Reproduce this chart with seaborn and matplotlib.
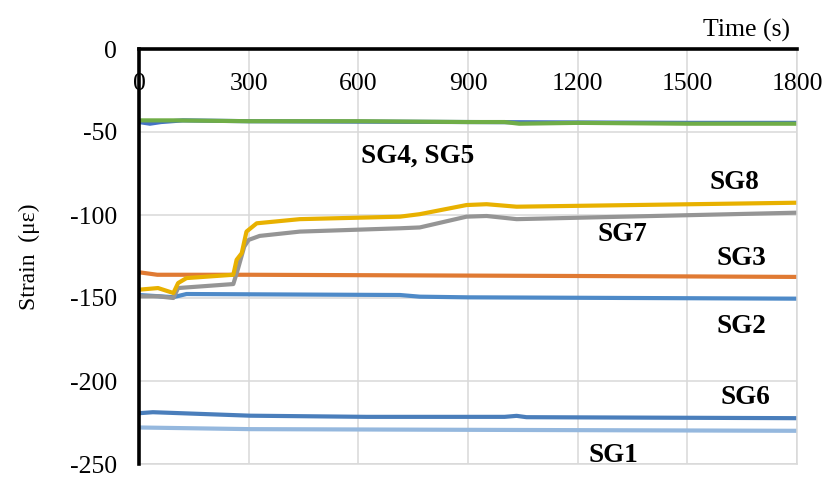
import pandas as pd
import matplotlib
matplotlib.use("Agg")
import matplotlib.pyplot as plt
import seaborn as sns

# values (time in s, strain in microstrain)
t_sg4 = [0, 30, 60, 120, 300, 900, 1500, 1800]
sg4 = [-44, -45, -44, -43, -43.5, -44, -44.5, -44.5]

t_sg5 = [0, 100, 300, 600, 900, 1000, 1040, 1200, 1500, 1800]
sg5 = [-43, -43, -43.5, -43.5, -44, -44, -45, -44.5, -45, -45]

t_sg8 = [0, 52, 94, 107, 130, 258, 267, 281, 294, 322, 440, 714, 768, 896, 951, 1033, 1800]
sg8 = [-145, -144, -147, -141, -138, -136, -127, -123, -110, -105, -102.5, -101, -99.5, -94, -93.5, -95, -92.6]

t_sg7 = [0, 52, 94, 107, 258, 270, 288, 300, 330, 440, 714, 768, 896, 951, 1033, 1800]
sg7 = [-149, -149, -150, -144, -141.6, -133, -119, -115, -112.6, -110, -108, -107.5, -101, -100.6, -102.5, -98.6]

t_sg3 = [0, 50, 300, 900, 1500, 1800]
sg3 = [-134.5, -136, -136, -136.5, -137, -137.3]

t_sg2 = [0, 94, 130, 714, 768, 900, 1800]
sg2 = [-148.2, -149.5, -147.6, -148.2, -149.2, -149.6, -150.4]

t_sg6 = [0, 38, 304, 623, 1000, 1033, 1060, 1800]
sg6 = [-219.4, -218.8, -220.9, -221.6, -221.6, -221, -221.8, -222.4]

t_sg1 = [0, 304, 1033, 1800]
sg1 = [-228, -229, -229.5, -230]

series = [
    ("SG4", t_sg4, sg4, "#4472C4"),
    ("SG5", t_sg5, sg5, "#70AD47"),
    ("SG3", t_sg3, sg3, "#E07A33"),
    ("SG2", t_sg2, sg2, "#4E8AC8"),
    ("SG7", t_sg7, sg7, "#959595"),
    ("SG8", t_sg8, sg8, "#E8B100"),
    ("SG6", t_sg6, sg6, "#4A7EBB"),
    ("SG1", t_sg1, sg1, "#95B8DE"),
]

# label text and where it sits (data coords)
label_text = ["SG4, SG5", "SG8", "SG7", "SG3", "SG2", "SG6", "SG1"]
label_x = [763, 1630, 1321, 1649, 1647, 1658, 1299]
label_y = [-64.5, -80.7, -112, -126, -167, -210, -245]

sns.set_theme(style="white")
plt.rcParams['font.family'] = ['Liberation Serif', 'DejaVu Serif']
plt.rcParams['axes.unicode_minus'] = False

fig = plt.figure(figsize=(8.29, 4.78), dpi=100)
ax = fig.add_axes([139/829, 1 - 464/478, 658/829, 415/478])

for name, t, v, c in series:
    sns.lineplot(x=t, y=v, ax=ax, color=c, linewidth=3.0, label=None)

ax.set_xlim(0, 1800)
ax.set_ylim(-250, 0)
ax.set_xticks(range(0, 1801, 300))
ax.set_yticks(range(-250, 1, 50))
ax.grid(True, color="#D9D9D9", linewidth=1.1)
ax.set_axisbelow(True)

ax.xaxis.tick_top()
ax.tick_params(axis='x', length=0, pad=-33, labelsize=18.5, colors='black')
ax.tick_params(axis='y', length=0, pad=16, labelsize=18.5, colors='black')

for s in ['left', 'top']:
    ax.spines[s].set_color('black')
    ax.spines[s].set_linewidth(2.6)
    ax.spines[s].set_zorder(5)
for s in ['right', 'bottom']:
    ax.spines[s].set_color('#D9D9D9')
    ax.spines[s].set_linewidth(1.1)

ax.xaxis.set_label_position('top')
ax.set_xlabel("Time (s)", fontsize=18.5, color='black')
ax.xaxis.label.set_ha('right')
ax.xaxis.set_label_coords(0.989, 1.03)

ax.set_ylabel("Strain  (με)", fontsize=17, color='black')
ax.yaxis.set_label_coords(-0.15, 0.5)

for txt, x, y in zip(label_text, label_x, label_y):
    ax.text(x, y, txt, ha='center', va='center', fontsize=19.5,
            fontweight='bold', color='black')

fig.savefig("out.png", dpi=100)
plt.close(fig)
